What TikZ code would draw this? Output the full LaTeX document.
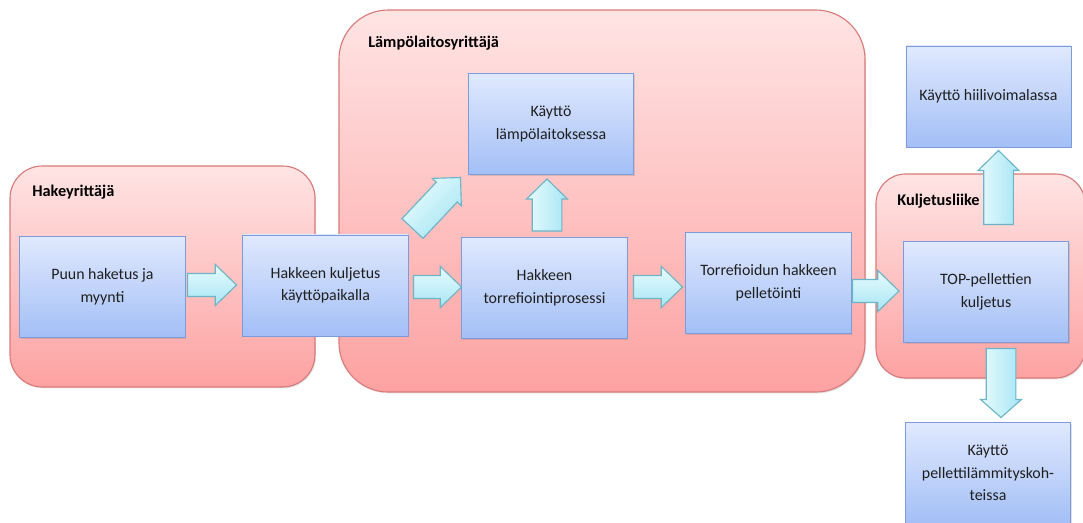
\documentclass[tikz,border=0pt]{standalone}
\usepackage{fontspec}
\setmainfont{Carlito}
\usetikzlibrary{calc,shadows}

\definecolor{grouptop}{HTML}{FFE4E4}
\definecolor{groupbot}{HTML}{FDA2A2}
\definecolor{groupline}{HTML}{D97A7A}
\definecolor{boxtop}{HTML}{E0E9FE}
\definecolor{boxbot}{HTML}{A3BFF6}
\definecolor{boxline}{HTML}{7B9BDA}
\definecolor{arrtop}{HTML}{E8FBFE}
\definecolor{arrbot}{HTML}{A6E5F4}
\definecolor{arrline}{HTML}{6BB5C6}

\tikzset{
  group/.style={draw=groupline, line width=0.8pt, top color=grouptop, bottom color=groupbot,
    drop shadow={opacity=0.2, shadow xshift=0.8pt, shadow yshift=-1pt}},
  stage/.style={draw=boxline, line width=0.7pt, top color=boxtop, bottom color=boxbot,
    minimum width=4.125cm, minimum height=2.525cm, align=center, inner sep=2pt,
    font=\fontsize{11.3}{16}\selectfont, text=black!88,
    drop shadow={opacity=0.25, shadow xshift=1pt, shadow yshift=-1pt}},
  grouptitle/.style={anchor=west, inner sep=0pt, font=\bfseries\fontsize{11.6}{13}\selectfont},
  flowarrow/.style={draw=arrline, line width=0.8pt, top color=arrtop, bottom color=arrbot},
}

% block arrow: #1 shaft half width, #2 head half width, #3 head length,
% #4 shading angle, #5 tail point, #6 tip point
\newcommand\blockarrow[6]{%
  \coordinate (ba) at ($(#6)!#3!(#5)$);
  \shadedraw[flowarrow, shading angle=#4]
    ($(#5)!#1!90:(#6)$) -- ($(ba)!#1!90:(#6)$) -- ($(ba)!#2!90:(#6)$) -- (#6)
    -- ($(ba)!#2!-90:(#6)$) -- ($(ba)!#1!-90:(#6)$) -- ($(#5)!#1!-90:(#6)$) -- cycle;}

\begin{document}
\begin{tikzpicture}[x=0.025cm, y=-0.025cm]
  \useasboundingbox[fill=white] (0,0) rectangle (1083,522);

  % organisations
  \draw[group, rounded corners=23pt] (10,166) rectangle (315,387);
  \draw[group, rounded corners=35pt] (339,10) rectangle (865,392);
  \draw[group, rounded corners=21pt] (876,174) rectangle (1085,378);

  \node[grouptitle] (t1) at (32,192) {Hakeyrittäjä};
  \node[grouptitle] (t2) at (368,43) {Lämpölaitosyrittäjä};
  \node[grouptitle] (t3) at (897,201) {Kuljetusliike};

  % process stages
  \node[stage] (puun)   at (102.5,287) {Puun haketus ja\\myynti};
  \node[stage] (kulj)   at (325.5,285.5) {Hakkeen kuljetus\\käyttöpaikalla};
  \node[stage] (lampo)  at (551,124) {Käyttö\\lämpölaitoksessa};
  \node[stage] (torre)  at (544.5,288) {Hakkeen\\torrefiointiprosessi};
  \node[stage] (pellet) at (768.5,283) {Torrefioidun hakkeen\\pelletöinti};
  \node[stage] (top)    at (986,292) {TOP-pellettien\\kuljetus};
  \node[stage] (hiili)  at (988.5,96.5) {Käyttö hiilivoimalassa};
  \node[stage] (pelle)  at (988,473) {Käyttö\\pellettilämmityskoh-\\teissa};

  % flow arrows between stages
  \coordinate (a1s) at ($(puun.east)+(2,-2)$);
  \coordinate (a1e) at ($(kulj.west)+(-6,-0.5)$);
  \coordinate (a2s) at ($(kulj.east)+(5,1.5)$);
  \coordinate (a2e) at ($(torre.west)+(0,-1)$);
  \coordinate (a3s) at ($(torre.east)+(6,-1)$);
  \coordinate (a3e) at ($(pellet.west)+(-3,4)$);
  \coordinate (a4s) at ($(pellet.east)+(1,8)$);
  \coordinate (a4e) at ($(top.west)+(-4,-1)$);
  \coordinate (u1s) at ($(torre.north)+(2.5,-6)$);
  \coordinate (u1e) at ($(lampo.south)+(-4,4)$);
  \coordinate (d1s) at ($(kulj.north east)+(4,-6)$);
  \coordinate (d1e) at ($(lampo.south west)+(-7.5,2.5)$);
  \coordinate (u2s) at ($(top.north)+(12.5,-16.5)$);
  \coordinate (u2e) at ($(hiili.south)+(10,3)$);
  \coordinate (u3s) at ($(top.south)+(15,5.5)$);
  \coordinate (u3e) at ($(pelle.north)+(13,-4.5)$);

  \blockarrow{0.2875cm}{0.5125cm}{0.53cm}{0}{a1s}{a1e}
  \blockarrow{0.2875cm}{0.5125cm}{0.53cm}{0}{a2s}{a2e}
  \blockarrow{0.2875cm}{0.5125cm}{0.53cm}{0}{a3s}{a3e}
  \blockarrow{0.2875cm}{0.5125cm}{0.53cm}{0}{a4s}{a4e}
  \blockarrow{0.37cm}{0.51cm}{0.5cm}{90}{u1s}{u1e}
  \blockarrow{0.36cm}{0.5cm}{0.5cm}{45}{d1s}{d1e}
  \blockarrow{0.37cm}{0.51cm}{0.5cm}{90}{u2s}{u2e}
  \blockarrow{0.37cm}{0.51cm}{0.45cm}{90}{u3s}{u3e}
\end{tikzpicture}
\end{document}
